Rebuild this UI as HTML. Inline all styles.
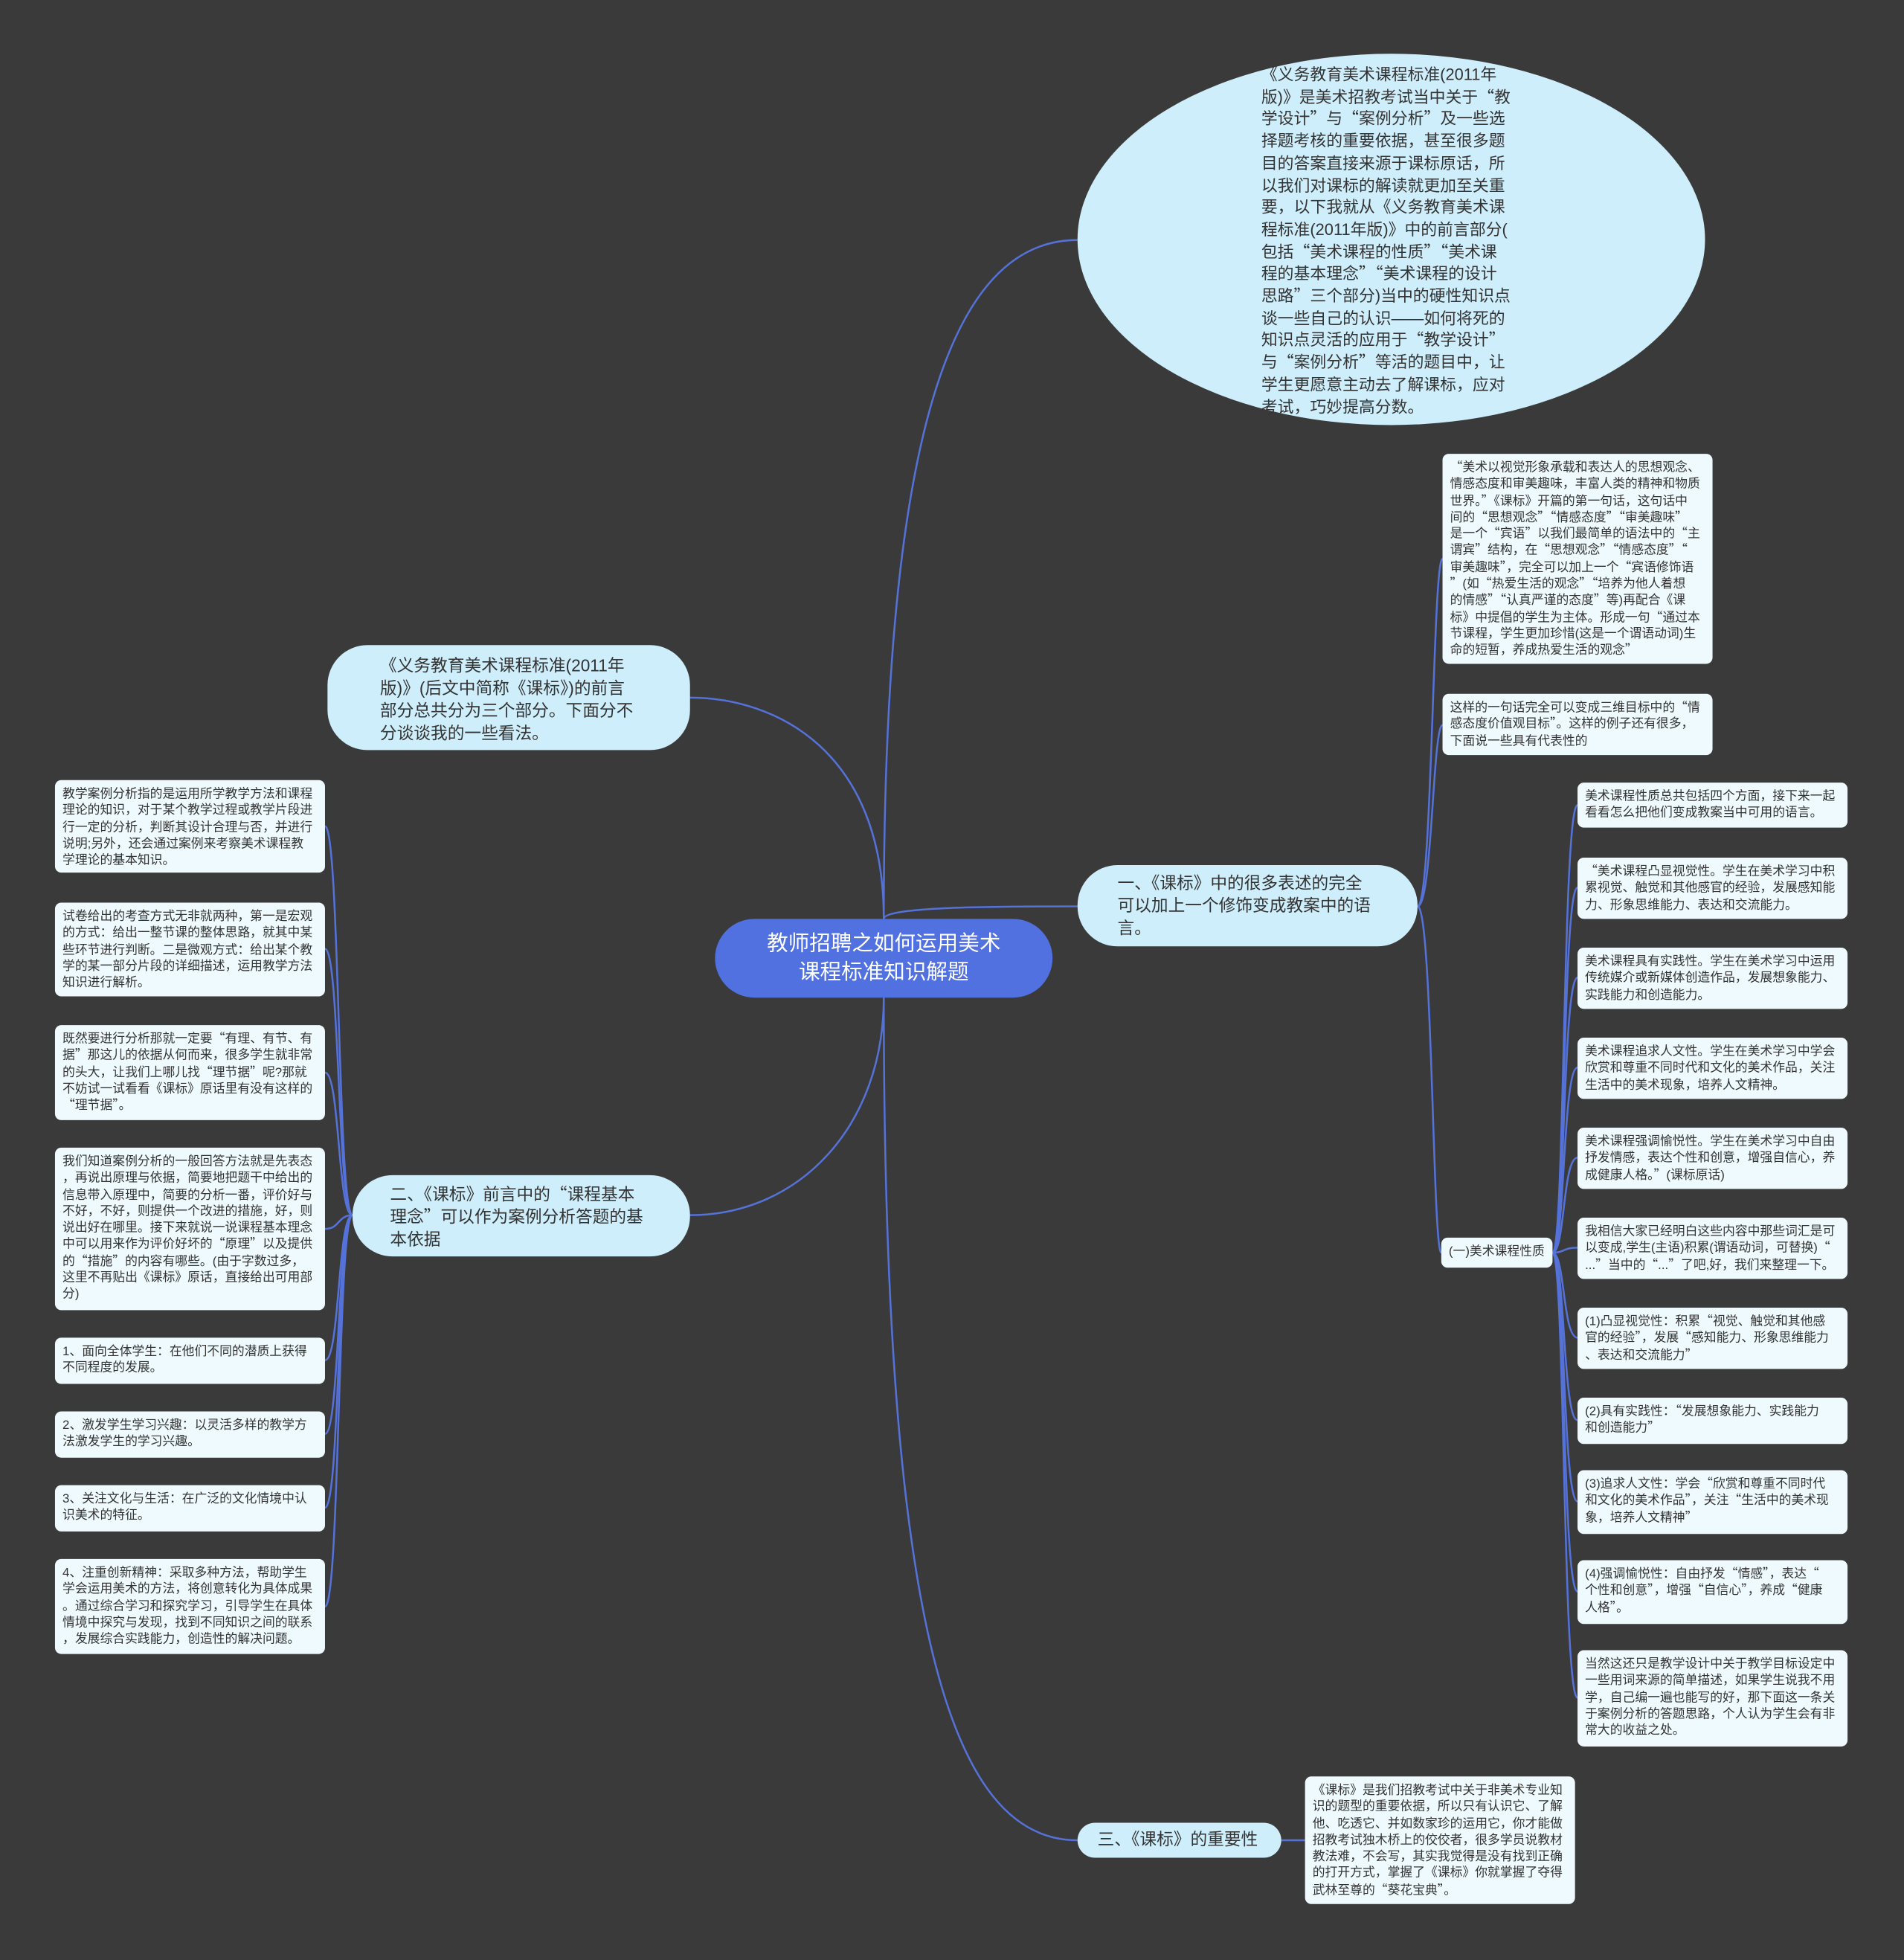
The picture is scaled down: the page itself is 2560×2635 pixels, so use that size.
<!DOCTYPE html>
<html><head><meta charset="utf-8">
<style>
html,body{margin:0;padding:0;background:#3a3a3a;}
body{width:2560px;height:2635px;overflow:hidden;position:relative;}
#w{position:absolute;left:0;top:0;width:1523px;height:1568px;transform:scale(1.6807);transform-origin:0 0;font-family:"Liberation Sans","Noto Sans CJK SC",sans-serif;}
.n{position:absolute;box-sizing:border-box;white-space:nowrap;color:#333;}
.leaf{background:#eefafd;border-radius:5px;font-size:10px;line-height:13.3px;padding:5px 6px;}
.br{background:#cdeefa;border-radius:32px;font-size:13.5px;line-height:18px;color:#333;}
.q{font-family:"Noto Sans CJK SC",sans-serif;line-height:0;}
svg{position:absolute;left:0;top:0;}
</style></head><body><div id="w">
<svg width="1523" height="1568" fill="none" stroke="#5572d8" stroke-width="1.5">
<path d="M707 735 C707 350 760 192 862 192"/>
<path d="M707 735 C707 725 800 725 862 725"/>
<path d="M707 735 C707 600 620 558 552 558"/>
<path d="M707 798 C707 900 640 972 552 972"/>
<path d="M707 798 C707 1300 760 1472 862 1472"/>
<path d="M1025 1472 L1044 1472"/>
<g>
<path d="M1134 725 C1146 725 1146 447 1154 447"/>
<path d="M1134 725 C1146 725 1146 580 1154 580"/>
<path d="M1134 725 C1146 725 1146 1002 1153 1002"/>
</g>
<g>
<path d="M1242 1002 C1252 1002 1250 644 1262 644"/>
<path d="M1242 1002 C1252 1002 1250 710 1262 710"/>
<path d="M1242 1002 C1252 1002 1250 782 1262 782"/>
<path d="M1242 1002 C1252 1002 1250 854 1262 854"/>
<path d="M1242 1002 C1252 1002 1250 926 1262 926"/>
<path d="M1242 1002 C1252 1002 1250 998 1262 998"/>
<path d="M1242 1002 C1252 1002 1250 1070 1262 1070"/>
<path d="M1242 1002 C1252 1002 1250 1136 1262 1136"/>
<path d="M1242 1002 C1252 1002 1250 1201 1262 1201"/>
<path d="M1242 1002 C1252 1002 1250 1273 1262 1273"/>
<path d="M1242 1002 C1252 1002 1250 1358 1262 1358"/>
</g>
<g>
<path d="M282 972 C270 972 272 661 260 661"/>
<path d="M282 972 C270 972 272 759 260 759"/>
<path d="M282 972 C270 972 272 858 260 858"/>
<path d="M282 972 C270 972 272 983 260 983"/>
<path d="M282 972 C270 972 272 1088 260 1088"/>
<path d="M282 972 C270 972 272 1147 260 1147"/>
<path d="M282 972 C270 972 272 1206 260 1206"/>
<path d="M282 972 C270 972 272 1285 260 1285"/>
</g>
</svg>

<div class="n" style="left:862px;top:43px;width:502px;height:297px;border-radius:50%;background:#cdeefa;"></div>
<div class="n" style="left:1009px;top:51px;font-size:13px;line-height:17.7px;color:#333;">《义务教育美术课程标准(2011年<br>版)》是美术招教考试当中关于“教<br>学设计”与“案例分析”及一些选<br>择题考核的重要依据，甚至很多题<br>目的答案直接来源于课标原话，所<br>以我们对课标的解读就更加至关重<br>要，以下我就从《义务教育美术课<br>程标准(2011年版)》中的前言部分(<br>包括“美术课程的性质”“美术课<br>程的基本理念”“美术课程的设计<br>思路”三个部分)当中的硬性知识点<br>谈一些自己的认识——如何将死的<br>知识点灵活的应用于“教学设计”<br>与“案例分析”等活的题目中，让<br>学生更愿意主动去了解课标，应对<br>考试，巧妙提高分数。</div>

<div class="n" style="left:572px;top:735px;width:270px;height:63px;background:#5171e0;border-radius:32px;color:#fff;font-size:17px;line-height:23px;text-align:center;padding-top:8px;">教师招聘之如何运用美术<br>课程标准知识解题</div>

<div class="n br" style="left:262px;top:516px;width:290px;height:84px;padding:8px 0 0 42px;">《义务教育美术课程标准(2011年<br>版)》(后文中简称《课标》)的前言<br>部分总共分为三个部分。下面分不<br>分谈谈我的一些看法。</div>
<div class="n br" style="left:282px;top:940px;width:270px;height:65px;padding:7px 0 0 30px;">二、《课标》前言中的“课程基本<br>理念”可以作为案例分析答题的基<br>本依据</div>
<div class="n br" style="left:862px;top:692px;width:272px;height:65px;padding:6px 0 0 32px;">一、《课标》中的很多表述的完全<br>可以加上一个修饰变成教案中的语<br>言。</div>
<div class="n br" style="left:862px;top:1458px;width:163px;height:28px;padding:5px 0 0 16px;border-radius:14px;">三、《课标》的重要性</div>

<div class="n leaf" style="left:1154px;top:363px;width:216px;height:168px;">“美术以视觉形象承载和表达人的思想观念、<br>情感态度和审美趣味，丰富人类的精神和物质<br>世界。”《课标》开篇的第一句话，这句话中<br>间的“思想观念”“情感态度”“审美趣味”<br>是一个“宾语”以我们最简单的语法中的“主<br>谓宾”结构，在“思想观念”“情感态度”“<br>审美趣味”，完全可以加上一个“宾语修饰语<br>”(如“热爱生活的观念”“培养为他人着想<br>的情感”“认真严谨的态度”等)再配合《课<br>标》中提倡的学生为主体。形成一句“通过本<br>节课程，学生更加珍惜(这是一个谓语动词)生<br>命的短暂，养成热爱生活的观念”</div>
<div class="n leaf" style="left:1154px;top:555px;width:216px;height:49px;">这样的一句话完全可以变成三维目标中的“情<br>感态度价值观目标”。这样的例子还有很多，<br>下面说一些具有代表性的</div>
<div class="n leaf" style="left:1153px;top:990px;width:89px;height:24px;padding-top:5px;">(一)美术课程性质</div>

<div class="n leaf" style="left:1262px;top:626px;width:216px;height:36px;">美术课程性质总共包括四个方面，接下来一起<br>看看怎么把他们变成教案当中可用的语言。</div>
<div class="n leaf" style="left:1262px;top:686px;width:216px;height:49px;">“美术课程凸显视觉性。学生在美术学习中积<br>累视觉、触觉和其他感官的经验，发展感知能<br>力、形象思维能力、表达和交流能力。</div>
<div class="n leaf" style="left:1262px;top:758px;width:216px;height:49px;">美术课程具有实践性。学生在美术学习中运用<br>传统媒介或新媒体创造作品，发展想象能力、<br>实践能力和创造能力。</div>
<div class="n leaf" style="left:1262px;top:830px;width:216px;height:49px;">美术课程追求人文性。学生在美术学习中学会<br>欣赏和尊重不同时代和文化的美术作品，关注<br>生活中的美术现象，培养人文精神。</div>
<div class="n leaf" style="left:1262px;top:902px;width:216px;height:49px;">美术课程强调愉悦性。学生在美术学习中自由<br>抒发情感，表达个性和创意，增强自信心，养<br>成健康人格。”(课标原话)</div>
<div class="n leaf" style="left:1262px;top:974px;width:216px;height:49px;">我相信大家已经明白这些内容中那些词汇是可<br>以变成,学生(主语)积累(谓语动词，可替换)“<br>...”当中的“...”了吧,好，我们来整理一下。</div>
<div class="n leaf" style="left:1262px;top:1046px;width:216px;height:49px;">(1)凸显视觉性：积累“视觉、触觉和其他感<br>官的经验”，发展“感知能力、形象思维能力<br>、表达和交流能力”</div>
<div class="n leaf" style="left:1262px;top:1118px;width:216px;height:37px;">(2)具有实践性：“发展想象能力、实践能力<br>和创造能力”</div>
<div class="n leaf" style="left:1262px;top:1176px;width:216px;height:51px;">(3)追求人文性：学会“欣赏和尊重不同时代<br>和文化的美术作品”，关注“生活中的美术现<br>象，培养人文精神”</div>
<div class="n leaf" style="left:1262px;top:1248px;width:216px;height:51px;">(4)强调愉悦性：自由抒发“情感”，表达“<br>个性和创意”，增强“自信心”，养成“健康<br>人格”。</div>
<div class="n leaf" style="left:1262px;top:1320px;width:216px;height:77px;">当然这还只是教学设计中关于教学目标设定中<br>一些用词来源的简单描述，如果学生说我不用<br>学，自己编一遍也能写的好，那下面这一条关<br>于案例分析的答题思路，个人认为学生会有非<br>常大的收益之处。</div>

<div class="n leaf" style="left:44px;top:624px;width:216px;height:74px;">教学案例分析指的是运用所学教学方法和课程<br>理论的知识，对于某个教学过程或教学片段进<br>行一定的分析，判断其设计合理与否，并进行<br>说明;另外，还会通过案例来考察美术课程教<br>学理论的基本知识。</div>
<div class="n leaf" style="left:44px;top:722px;width:216px;height:75px;">试卷给出的考查方式无非就两种，第一是宏观<br>的方式：给出一整节课的整体思路，就其中某<br>些环节进行判断。二是微观方式：给出某个教<br>学的某一部分片段的详细描述，运用教学方法<br>知识进行解析。</div>
<div class="n leaf" style="left:44px;top:820px;width:216px;height:76px;">既然要进行分析那就一定要“有理、有节、有<br>据”那这儿的依据从何而来，很多学生就非常<br>的头大，让我们上哪儿找“理节据”呢?那就<br>不妨试一试看看《课标》原话里有没有这样的<br>“理节据”。</div>
<div class="n leaf" style="left:44px;top:918px;width:216px;height:130px;">我们知道案例分析的一般回答方法就是先表态<br>，再说出原理与依据，简要地把题干中给出的<br>信息带入原理中，简要的分析一番，评价好与<br>不好，不好，则提供一个改进的措施，好，则<br>说出好在哪里。接下来就说一说课程基本理念<br>中可以用来作为评价好坏的“原理”以及提供<br>的“措施”的内容有哪些。(由于字数过多，<br>这里不再贴出《课标》原话，直接给出可用部<br>分)</div>
<div class="n leaf" style="left:44px;top:1070px;width:216px;height:37px;">1、面向全体学生：在他们不同的潜质上获得<br>不同程度的发展。</div>
<div class="n leaf" style="left:44px;top:1129px;width:216px;height:37px;">2、激发学生学习兴趣：以灵活多样的教学方<br>法激发学生的学习兴趣。</div>
<div class="n leaf" style="left:44px;top:1188px;width:216px;height:37px;">3、关注文化与生活：在广泛的文化情境中认<br>识美术的特征。</div>
<div class="n leaf" style="left:44px;top:1247px;width:216px;height:76px;">4、注重创新精神：采取多种方法，帮助学生<br>学会运用美术的方法，将创意转化为具体成果<br>。通过综合学习和探究学习，引导学生在具体<br>情境中探究与发现，找到不同知识之间的联系<br>，发展综合实践能力，创造性的解决问题。</div>

<div class="n leaf" style="left:1044px;top:1421px;width:216px;height:102px;">《课标》是我们招教考试中关于非美术专业知<br>识的题型的重要依据，所以只有认识它、了解<br>他、吃透它、并如数家珍的运用它，你才能做<br>招教考试独木桥上的佼佼者，很多学员说教材<br>教法难，不会写，其实我觉得是没有找到正确<br>的打开方式，掌握了《课标》你就掌握了夺得<br>武林至尊的“葵花宝典”。</div>
</div>
<script>
document.querySelectorAll('.n').forEach(function(el){
  el.innerHTML = el.innerHTML.replace(/([“”])/g,'<span class="q">$1</span>');
});
</script>
</body></html>
